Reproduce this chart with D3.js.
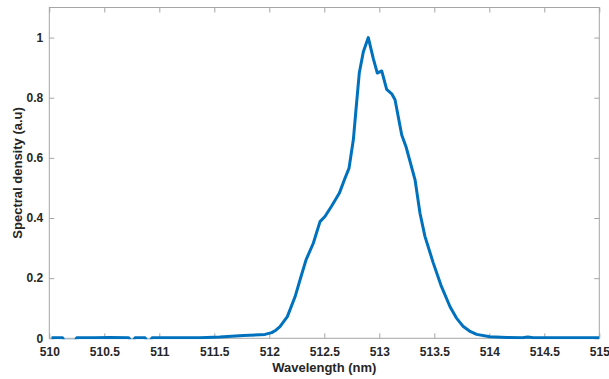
<!DOCTYPE html>
<html><head><meta charset="utf-8">
<script src="https://cdn.jsdelivr.net/npm/d3@7"></script>
<style>
html,body{margin:0;padding:0;background:#fff;}
svg{display:block;}
</style></head>
<body>
<svg id="chart" width="609" height="379"></svg>
<script>
// Data
const wavelength = [510.02,510.12,510.135,510.235,510.25,510.4,510.55,510.72,510.74,510.765,510.78,510.87,510.885,510.92,510.935,511.1,511.37,511.55,511.764,511.961,512.022,512.06,512.097,512.164,512.234,512.279,512.334,512.4,512.461,512.506,512.567,512.636,512.688,512.725,512.764,512.788,512.818,512.855,512.9,512.945,512.982,513.022,513.067,513.113,513.143,513.204,513.243,513.325,513.37,513.415,513.491,513.56,513.643,513.70,513.764,513.82,513.885,514.006,514.158,514.3,514.35,514.4,514.6,514.8,515.0];
const density =    [0.002,0.002,-0.008,-0.008,0.002,0.002,0.003,0.002,-0.008,-0.008,0.002,0.002,-0.008,-0.008,0.002,0.002,0.002,0.004,0.009,0.013,0.019,0.027,0.039,0.072,0.138,0.194,0.261,0.316,0.388,0.405,0.44,0.482,0.532,0.566,0.66,0.76,0.882,0.953,1.0,0.931,0.882,0.889,0.828,0.813,0.793,0.676,0.637,0.527,0.416,0.339,0.25,0.177,0.105,0.068,0.039,0.024,0.013,0.005,0.003,0.002,0.004,0.002,0.002,0.002,0.002];
const xTicks = [510,510.5,511,511.5,512,512.5,513,513.5,514,514.5,515];
const xTickLabels = ["510","510.5","511","511.5","512","512.5","513","513.5","514","514.5","515"];
const yTicks = [0,0.2,0.4,0.6,0.8,1];
const yTickLabels = ["0","0.2","0.4","0.6","0.8","1"];
const xLabel = "Wavelength (nm)";
const yLabel = "Spectral density (a.u)";

const svg = d3.select("#chart");
const L = 49.3, R = 599.3, T = 7.5, B = 338.3;
const x = d3.scaleLinear().domain([510,515]).range([L,R]);
const y = d3.scaleLinear().domain([0,1.1]).range([B,T]);
const axisColor = "#a6a6a6";
const textColor = "#262626";
const font = "'Liberation Sans', Arial, sans-serif";

svg.append("defs").append("clipPath").attr("id","clip")
  .append("rect").attr("x",L).attr("y",T).attr("width",R-L).attr("height",B-T+1);

// box
svg.append("rect").attr("x",L).attr("y",T).attr("width",R-L).attr("height",B-T)
  .attr("fill","none").attr("stroke",axisColor).attr("stroke-width",1);

function styleAxis(g, showText){
  g.select(".domain").remove();
  g.selectAll(".tick line").attr("stroke",axisColor);
  g.selectAll("text").attr("fill",textColor).attr("font-family",font)
   .attr("font-size","12px").attr("font-weight","bold");
  if(!showText) g.selectAll("text").remove();
}

svg.append("g").attr("transform",`translate(0,${B})`)
  .call(d3.axisBottom(x).tickValues(xTicks).tickFormat((d,i)=>xTickLabels[i]).tickSizeInner(-5).tickSizeOuter(0).tickPadding(9))
  .call(g=>styleAxis(g,true));
svg.append("g").attr("transform",`translate(0,${T})`)
  .call(d3.axisTop(x).tickValues(xTicks).tickSizeInner(-5).tickSizeOuter(0))
  .call(g=>styleAxis(g,false));
svg.append("g").attr("transform",`translate(${L},0)`)
  .call(d3.axisLeft(y).tickValues(yTicks).tickFormat((d,i)=>yTickLabels[i]).tickSizeInner(-5).tickSizeOuter(0).tickPadding(6))
  .call(g=>styleAxis(g,true));
svg.append("g").attr("transform",`translate(${R},0)`)
  .call(d3.axisRight(y).tickValues(yTicks).tickSizeInner(-5).tickSizeOuter(0))
  .call(g=>styleAxis(g,false));

const data = wavelength.map((w,i)=>({w, v: density[i]}));
svg.append("path").datum(data)
  .attr("clip-path","url(#clip)")
  .attr("fill","none").attr("stroke","#0072BD").attr("stroke-width",3)
  .attr("stroke-linejoin","round")
  .attr("d", d3.line().x(d=>x(d.w)).y(d=>y(d.v)));

svg.append("text").attr("x",(L+R)/2).attr("y",372).attr("text-anchor","middle")
  .attr("font-family",font).attr("font-size","13px").attr("font-weight","bold")
  .attr("fill",textColor).text(xLabel);
svg.append("text").attr("transform",`translate(22,${(T+B)/2}) rotate(-90)`)
  .attr("text-anchor","middle")
  .attr("font-family",font).attr("font-size","13px").attr("font-weight","bold")
  .attr("fill",textColor).text(yLabel);
</script>
</body></html>
